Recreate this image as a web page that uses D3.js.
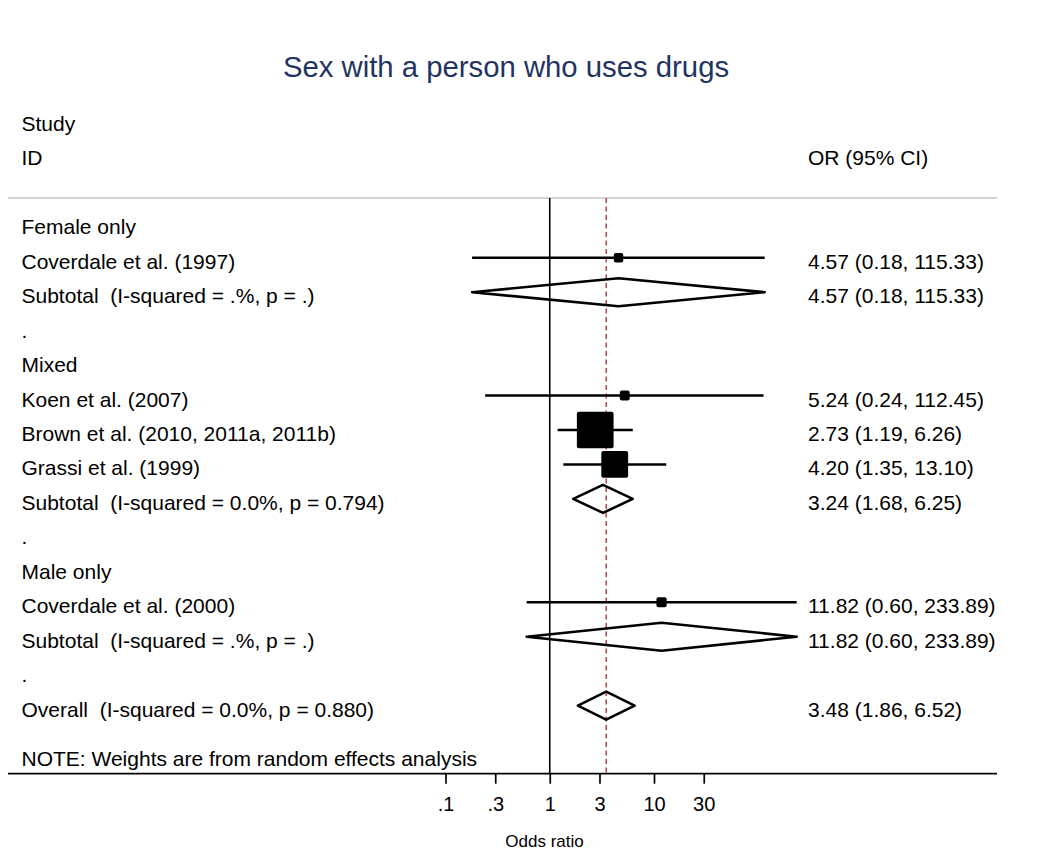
<!DOCTYPE html>
<html>
<head>
<meta charset="utf-8">
<script src="https://cdn.jsdelivr.net/npm/d3@7"></script>
<style>
  html, body { margin: 0; padding: 0; background: #fff; }
  svg { display: block; }
  text { font-family: "Liberation Sans", Arial, Helvetica, sans-serif; white-space: pre; }
</style>
</head>
<body>
<svg id="chart" width="1043" height="851"></svg>
<script>
// ---------------- data ----------------
const chartTitle = "Sex with a person who uses drugs";
const rowLabels = [
  "Female only",
  "Coverdale et al. (1997)",
  "Subtotal  (I-squared = .%, p = .)",
  ".",
  "Mixed",
  "Koen et al. (2007)",
  "Brown et al. (2010, 2011a, 2011b)",
  "Grassi et al. (1999)",
  "Subtotal  (I-squared = 0.0%, p = 0.794)",
  ".",
  "Male only",
  "Coverdale et al. (2000)",
  "Subtotal  (I-squared = .%, p = .)",
  ".",
  "Overall  (I-squared = 0.0%, p = 0.880)"
];
const rowTypes = ["group","study","subtotal","blank","group","study","study","study","subtotal","blank","group","study","subtotal","blank","overall"];
const orValues = [null, 4.57, 4.57, null, null, 5.24, 2.73, 4.20, 3.24, null, null, 11.82, 11.82, null, 3.48];
const ciLower  = [null, 0.18, 0.18, null, null, 0.24, 1.19, 1.35, 1.68, null, null, 0.60, 0.60, null, 1.86];
const ciUpper  = [null, 115.33, 115.33, null, null, 112.45, 6.26, 13.10, 6.25, null, null, 233.89, 233.89, null, 6.52];
const weights  = [null, 3.78, null, null, null, 4.16, 57.13, 30.51, null, null, null, 4.43, null, null, null];
const overallOR = 3.48;
const tickValues = [0.1, 0.3, 1, 3, 10, 30];
const tickLabels = [".1", ".3", "1", "3", "10", "30"];
const headerLeft = ["Study", "ID"];
const headerRight = "OR (95% CI)";
const noteText = "NOTE: Weights are from random effects analysis";
const xTitle = "Odds ratio";

// ---------------- layout ----------------
const svg = d3.select("#chart");
const FS = 21;
const x = d3.scaleLog().domain([0.1, 10]).range([445.5, 654]);
const y = d3.scaleLinear().domain([0, 14]).range([223.3, 705.6]);
const boxSize = d3.scaleSqrt().domain([0, 57.13]).range([0, 36.7]);
const axisY = 773.7;
const plotLeft = 8, plotRight = 997;
const rightX = 808, leftX = 21.5;
const fmt = d3.format(".2f");

// title
svg.append("text")
  .attr("x", 506).attr("y", 77)
  .attr("text-anchor", "middle")
  .attr("font-size", 29.3)
  .attr("fill", "#1f3462")
  .text(chartTitle);

// headers
svg.selectAll("text.hdr").data(headerLeft).join("text")
  .attr("class", "hdr")
  .attr("x", leftX)
  .attr("y", (d, i) => y(i - 3) + 11)
  .attr("font-size", FS)
  .text(d => d);
svg.append("text")
  .attr("x", rightX).attr("y", y(-2) + 11)
  .attr("font-size", FS)
  .text(headerRight);

// grey header line
svg.append("line")
  .attr("x1", plotLeft).attr("x2", plotRight)
  .attr("y1", 198).attr("y2", 198)
  .attr("stroke", "#c4c4c4").attr("stroke-width", 1.5);

// reference line at OR=1
svg.append("line")
  .attr("x1", x(1)).attr("x2", x(1))
  .attr("y1", 198).attr("y2", axisY)
  .attr("stroke", "#000").attr("stroke-width", 1.6);

// overall dashed line
svg.append("line")
  .attr("x1", x(overallOR)).attr("x2", x(overallOR))
  .attr("y1", 198).attr("y2", axisY)
  .attr("stroke", "#b03a3a").attr("stroke-width", 1.4)
  .attr("stroke-dasharray", "5,3.5");

// rows
const rows = rowLabels.map((label, i) => ({
  i, label, type: rowTypes[i], or: orValues[i], lo: ciLower[i], hi: ciUpper[i], w: weights[i]
}));

svg.selectAll("text.lab").data(rows).join("text")
  .attr("class", "lab")
  .attr("x", leftX)
  .attr("y", d => y(d.i) + 11)
  .attr("font-size", FS)
  .text(d => d.label);

const est = rows.filter(d => d.or != null);
svg.selectAll("text.est").data(est).join("text")
  .attr("class", "est")
  .attr("x", rightX)
  .attr("y", d => y(d.i) + 11)
  .attr("font-size", FS)
  .text(d => `${fmt(d.or)} (${fmt(d.lo)}, ${fmt(d.hi)})`);

const studies = rows.filter(d => d.type === "study");
svg.selectAll("line.ci").data(studies).join("line")
  .attr("class", "ci")
  .attr("x1", d => x(d.lo)).attr("x2", d => x(d.hi))
  .attr("y1", d => y(d.i)).attr("y2", d => y(d.i))
  .attr("stroke", "#000").attr("stroke-width", 2.5);

svg.selectAll("rect.box").data(studies).join("rect")
  .attr("class", "box")
  .attr("x", d => x(d.or) - boxSize(d.w) / 2)
  .attr("y", d => y(d.i) - boxSize(d.w) / 2)
  .attr("width", d => boxSize(d.w))
  .attr("height", d => boxSize(d.w))
  .attr("rx", 2)
  .attr("fill", "#000");

const pooled = rows.filter(d => d.type === "subtotal" || d.type === "overall");
const dh = 14;
svg.selectAll("path.dia").data(pooled).join("path")
  .attr("class", "dia")
  .attr("d", d => {
    const cy = y(d.i);
    return `M${x(d.lo)},${cy}L${x(d.or)},${cy - dh}L${x(d.hi)},${cy}L${x(d.or)},${cy + dh}Z`;
  })
  .attr("fill", "none")
  .attr("stroke", "#000").attr("stroke-width", 2.6)
  .attr("stroke-linejoin", "round");

// note
svg.append("text")
  .attr("x", leftX).attr("y", 766)
  .attr("font-size", FS)
  .text(noteText);

// x axis
svg.append("line")
  .attr("x1", plotLeft).attr("x2", plotRight)
  .attr("y1", axisY).attr("y2", axisY)
  .attr("stroke", "#000").attr("stroke-width", 1.7);

const axis = d3.axisBottom(x)
  .tickValues(tickValues)
  .tickFormat((d, i) => tickLabels[i])
  .tickSize(10)
  .tickSizeOuter(0)
  .tickPadding(13);
const gAxis = svg.append("g")
  .attr("transform", `translate(0,${axisY})`)
  .call(axis);
gAxis.select(".domain").remove();
gAxis.selectAll(".tick line").attr("stroke", "#000").attr("stroke-width", 1.7);
gAxis.selectAll(".tick text")
  .attr("font-size", 20)
  .attr("fill", "#000")
  .style("font-family", "'Liberation Sans', Arial, sans-serif");

svg.append("text")
  .attr("x", 544.5).attr("y", 847)
  .attr("text-anchor", "middle")
  .attr("font-size", 17)
  .text(xTitle);
</script>
</body>
</html>
